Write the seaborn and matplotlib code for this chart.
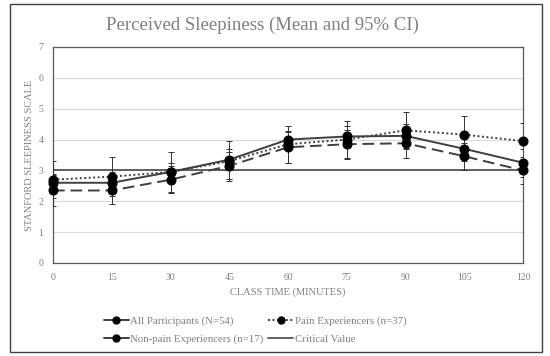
import numpy as np
import pandas as pd
import matplotlib
matplotlib.use("Agg")
import matplotlib.pyplot as plt
import seaborn as sns
from matplotlib.patches import Rectangle
from matplotlib.lines import Line2D

# class time (minutes)
times = [0, 15, 30, 45, 60, 75, 90, 105, 120]

# mean Stanford sleepiness scores
all_mean = [2.6, 2.6, 2.95, 3.35, 4.0, 4.1, 4.12, 3.7, 3.25]
pain_mean = [2.7, 2.8, 2.95, 3.3, 3.85, 4.0, 4.3, 4.16, 3.95]
nonpain_mean = [2.35, 2.35, 2.7, 3.15, 3.75, 3.85, 3.88, 3.46, 3.0]
critical = [3, 3, 3, 3, 3, 3, 3, 3, 3]

# 95% CI half widths
all_ci = [0.3, 0.35, 0.3, 0.35, 0.27, 0.35, 0.4, 0.4, 0.45]
pain_ci = [0.6, 0.62, 0.64, 0.65, 0.6, 0.6, 0.6, 0.62, 0.6]
nonpain_ci = [0.5, 0.45, 0.44, 0.44, 0.5, 0.47, 0.48, 0.43, 0.45]

labels = ["All Participants (N=54)", "Pain Experiencers (n=37)",
          "Non-pain Experiencers (n=17)", "Critical Value"]

sns.set_style("white")
plt.rcParams['font.family'] = ['Liberation Serif', 'DejaVu Serif']

fig = plt.figure(figsize=(5.5, 3.56), dpi=100)
ax = fig.add_axes([53 / 550, 1 - 263 / 356, 470 / 550, 216 / 356])

line_col = '#3f3f3f'
grey_txt = '#808080'

# (mean, ci, label, line style, legend style)
series = [
    (all_mean, all_ci, labels[0], '-', '-'),
    (pain_mean, pain_ci, labels[1], (0, (1, 1.3)), (0, (1, 1.3))),
    (nonpain_mean, nonpain_ci, labels[2], (0, (6, 3)), '-'),
]

handles = {}
for mean, ci, lab, ls, leg_ls in series:
    df = pd.DataFrame({'t': times, 'v': mean})
    ax.errorbar(times, mean, yerr=ci, fmt='none', ecolor='#333333',
                elinewidth=0.7, capsize=2.5, capthick=0.7, zorder=3)
    sns.lineplot(data=df, x='t', y='v', ax=ax, color=line_col, lw=1.4,
                 marker='o', markersize=6.5, markerfacecolor='black',
                 markeredgecolor='black', zorder=4, legend=False,
                 clip_on=False)
    ax.lines[-1].set_linestyle(ls)
    handles[lab] = Line2D([], [], color=line_col, lw=1.4, marker='o',
                          markersize=5, markerfacecolor='black',
                          markeredgecolor='black', linestyle=leg_ls)

crit_df = pd.DataFrame({'t': times, 'v': critical})
sns.lineplot(data=crit_df, x='t', y='v', ax=ax, color='#555555', lw=1.3,
             zorder=2, legend=False)
handles[labels[3]] = Line2D([], [], color='#555555', lw=1.3)

ax.set_xlim(0, 120)
ax.set_ylim(0, 7)
ax.set_xticks(times)
ax.set_yticks(range(0, 8))
ax.grid(axis='y', color='#d9d9d9', lw=0.8)
ax.set_axisbelow(True)
for sp in ax.spines.values():
    sp.set_color('#595959')
    sp.set_linewidth(0.9)
ax.tick_params(length=0, labelsize=7, colors=grey_txt, pad=7)
ax.set_xlabel("CLASS TIME (MINUTES)", fontsize=7.5, color=grey_txt, labelpad=4)
ax.set_ylabel("STANFORD SLEEPINESS SCALE", fontsize=7.5, color=grey_txt, labelpad=3)

fig.text(262 / 550, 1 - 25 / 356, "Perceived Sleepiness (Mean and 95% CI)",
         ha='center', va='center', fontsize=13.5, color='#7f7f7f')

order = [labels[0], labels[2], labels[1], labels[3]]
leg = fig.legend([handles[k] for k in order], order, loc='center',
                 bbox_to_anchor=(255 / 550, 1 - 330 / 356), ncol=2,
                 frameon=False, fontsize=7.8, handlelength=2.3,
                 handletextpad=0.15, columnspacing=0.45, labelspacing=0.75)
for t in leg.get_texts():
    t.set_color(grey_txt)

fig.patches.append(Rectangle((10 / 550, 4 / 356), 532 / 550, 348 / 356,
                             transform=fig.transFigure, fill=False,
                             edgecolor='#404040', lw=1.0))

fig.savefig("out.png", dpi=100)
